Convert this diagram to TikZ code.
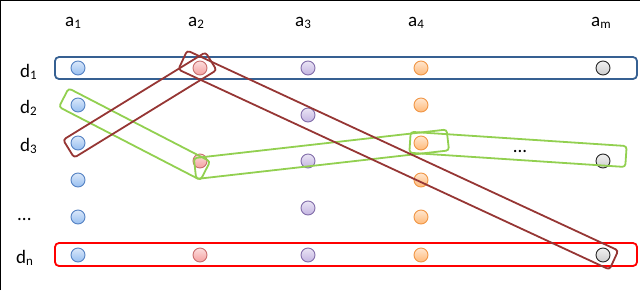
\documentclass[tikz,border=0pt]{standalone}
\usepackage{fontspec}
\setmainfont{Carlito}
\usepackage{tikz}
\usetikzlibrary{calc,positioning}

\definecolor{rowblue}{RGB}{54,96,146}
\definecolor{rowred}{RGB}{255,0,0}
\definecolor{pathgreen}{RGB}{146,208,80}
\definecolor{pathbrown}{RGB}{150,54,52}
\definecolor{dotblue}{RGB}{150,190,240}
\definecolor{dotblueline}{RGB}{85,130,195}
\definecolor{dotred}{RGB}{245,160,160}
\definecolor{dotredline}{RGB}{200,110,110}
\definecolor{dotpurple}{RGB}{195,180,225}
\definecolor{dotpurpleline}{RGB}{130,110,170}
\definecolor{dotorange}{RGB}{255,185,120}
\definecolor{dotorangeline}{RGB}{240,150,70}
\definecolor{dotgray}{RGB}{205,205,205}
\definecolor{dotgrayline}{RGB}{40,40,40}

\tikzset{
    dot/.style={circle, minimum size=14pt, inner sep=0pt, line width=0.9pt},
    bluedot/.style={dot, draw=dotblueline, top color=dotblue!35!white, bottom color=dotblue},
    reddot/.style={dot, draw=dotredline, top color=dotred!35!white, bottom color=dotred},
    purpledot/.style={dot, draw=dotpurpleline, top color=dotpurple!35!white, bottom color=dotpurple},
    orangedot/.style={dot, draw=dotorangeline, top color=dotorange!35!white, bottom color=dotorange},
    graydot/.style={dot, draw=dotgrayline, top color=dotgray!30!white, bottom color=dotgray},
    lab/.style={anchor=base west, inner sep=0pt, font=\fontsize{19}{22}\selectfont},
    rowbox/.style={rounded corners=4pt, line width=1.8pt},
    pathbox/.style={rounded corners=3pt, line width=1.8pt},
}

\newcommand{\sublab}[2]{#1\raisebox{-2.5pt}{\fontsize{13}{13}\selectfont #2}}
\newcommand{\grouppath}[5]{%
    \path ($(#2)!-#4!(#3)$) coordinate (gp-s)
          ($(#3)!-#5!(#2)$) coordinate (gp-e);
    \draw[#1] ($(gp-s)!10.5pt!90:(gp-e)$) -- ($(gp-e)!10.5pt!-90:(gp-s)$)
        -- ($(gp-e)!10.5pt!90:(gp-s)$) -- ($(gp-s)!10.5pt!-90:(gp-e)$) -- cycle;
}

\begin{document}
\begin{tikzpicture}[x=1pt,y=-1pt]
            \useasboundingbox (0,0) rectangle (640,290);
            \draw[line width=1.2pt] (0.6,290) -- (0.6,0.6) -- (640,0.6);

            % attributes
            \node[lab] (la1) at (65,26) {\sublab{a}{1}};
            \node[lab] (la2) at (188,26) {\sublab{a}{2}};
            \node[lab] (la3) at (295,26) {\sublab{a}{3}};
            \node[lab] (la4) at (408,26) {\sublab{a}{4}};
            \node[lab] (lam) at (591,26) {\sublab{a}{m}};

            % objects
            \node[lab] (ld1) at (20,77) {\sublab{d}{1}};
            \node[lab] (ld2) at (20,113) {\sublab{d}{2}};
            \node[lab] (ld3) at (20,151) {\sublab{d}{3}};
            \node[lab] (ldots) at (17,220) {...};
            \node[lab] (ldn) at (16,263) {\sublab{d}{n}};

            % values
            \node[bluedot] (a1d1) at (78,68) {};
            \node[bluedot] (a1d2) at (78,105) {};
            \node[bluedot] (a1d3) at (78,143) {};
            \node[bluedot] (a1d4) at (78,180) {};
            \node[bluedot] (a1d5) at (78,217) {};
            \node[bluedot] (a1dn) at (78,255) {};
            \node[reddot] (a2d1) at (200,68) {};
            \node[reddot] (a2d3) at (200,161) {};
            \node[reddot] (a2dn) at (200,255) {};
            \node[purpledot] (a3d1) at (308,68) {};
            \node[purpledot] (a3d2) at (308,115) {};
            \node[purpledot] (a3d3) at (308,161) {};
            \node[purpledot] (a3d4) at (308,208) {};
            \node[purpledot] (a3dn) at (308,255) {};
            \node[orangedot] (a4d1) at (421,68) {};
            \node[orangedot] (a4d2) at (421,105) {};
            \node[orangedot] (a4d3) at (421,143) {};
            \node[orangedot] (a4d4) at (421,180) {};
            \node[orangedot] (a4d5) at (421,217) {};
            \node[orangedot] (a4dn) at (421,255) {};
            \node[graydot] (amd1) at (603,68) {};
            \node[graydot] (amd3) at (603,161) {};
            \node[graydot] (amdn) at (603,255) {};
            \node[lab, anchor=base] (gdots) at (520,152) {...};

            % rows
            \draw[rowbox, draw=rowblue] ($(a1d1)+(-23,-11)$) rectangle ($(amd1)+(34,11)$);
            \draw[rowbox, draw=rowred] ($(a1dn)+(-23,-12)$) rectangle ($(amdn)+(34,11)$);

            % green path
            \coordinate (a2low) at ($(a2d3)+(0,7)$);
            \coordinate (amlow) at ($(amd3)+(0,-6)$);
            \grouppath{pathbox, draw=pathgreen}{a1d2}{a2low}{16pt}{6pt}
            \grouppath{pathbox, draw=pathgreen}{a2low}{a4d3}{5pt}{27pt}
            \grouppath{pathbox, draw=pathgreen}{a4d3}{amlow}{11pt}{23pt}

            % brown path
            \grouppath{pathbox, draw=pathbrown}{a1d3}{a2d1}{11pt}{13pt}
            \grouppath{pathbox, draw=pathbrown}{a2d1}{amdn}{19pt}{12pt}
\end{tikzpicture}
\end{document}
